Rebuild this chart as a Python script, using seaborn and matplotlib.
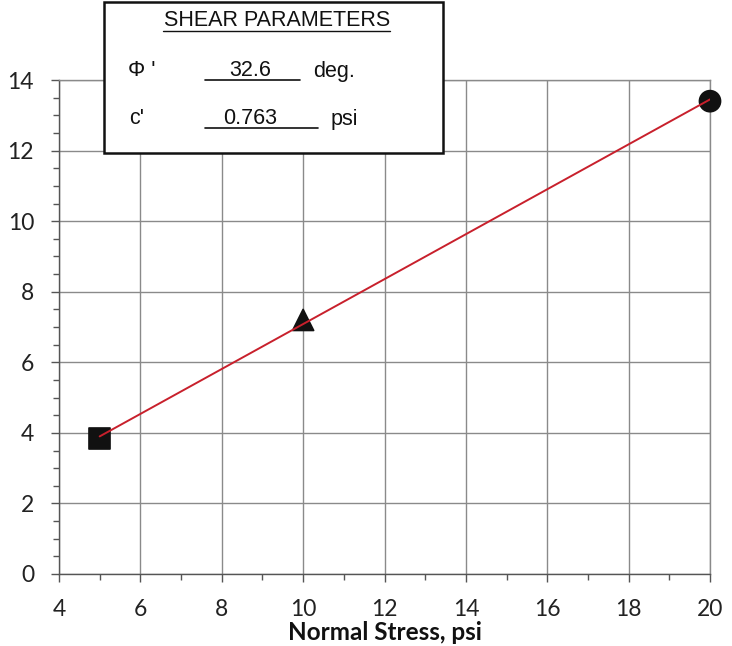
import matplotlib
matplotlib.use("Agg")
import matplotlib.pyplot as plt
import seaborn as sns
import pandas as pd
from matplotlib.ticker import MultipleLocator
from matplotlib.patches import Rectangle
from matplotlib.lines import Line2D

# Data
normal_stress = [5, 10, 20]
shear_stress = [3.85, 7.2, 13.4]
specimen = ["A", "B", "C"]
fit_x = [5, 20]
fit_y = [3.9, 13.45]
x_ticks = [4, 6, 8, 10, 12, 14, 16, 18, 20]
y_ticks = [0, 2, 4, 6, 8, 10, 12, 14]
phi_value = "32.6"
c_value = "0.763"

sns.set_theme(style="white")
plt.rcParams['font.family'] = ['Lato', 'DejaVu Sans']

fig = plt.figure(figsize=(7.32, 6.46), dpi=100)
ax = fig.add_axes([59/732, 1-574/646, (710-59)/732, (574-80)/646])

pts = pd.DataFrame({"x": normal_stress, "y": shear_stress, "s": specimen})
sns.scatterplot(data=pts, x="x", y="y", style="s",
                markers={"A": "s", "B": "^", "C": "o"},
                color="#111111", edgecolor="#111111", s=230, legend=False,
                ax=ax, zorder=3, clip_on=False)
fit = pd.DataFrame({"x": fit_x, "y": fit_y})
sns.lineplot(data=fit, x="x", y="y", color="#c8202c", linewidth=1.4, ax=ax, zorder=4)

ax.set_xlim(4, 20)
ax.set_ylim(0, 14)
ax.set_xticks(x_ticks)
ax.set_yticks(y_ticks)
ax.xaxis.set_minor_locator(MultipleLocator(1))
ax.yaxis.set_minor_locator(MultipleLocator(0.5))
ax.grid(True, which="major", color="#8a8a8a", linewidth=1.0)
ax.tick_params(axis="both", which="major", direction="out", length=6, width=1,
               color="#555555", labelsize=16.5, labelcolor="#222222")
ax.tick_params(axis="x", which="major", pad=12)
ax.tick_params(axis="y", which="major", pad=12)
ax.tick_params(axis="both", which="minor", direction="out", length=4, width=1,
               color="#555555")
ax.tick_params(bottom=True, left=True, which="both")
for side in ["top", "right"]:
    ax.spines[side].set_color("#8a8a8a")
    ax.spines[side].set_linewidth(1.0)
for side in ["left", "bottom"]:
    ax.spines[side].set_color("#555555")
    ax.spines[side].set_linewidth(1.0)
ax.set_xlabel("Normal Stress, psi", fontsize=17.5, fontweight="bold",
              color="#111111", labelpad=1)
ax.set_ylabel("")

# Parameter box
W, H = 732, 646
def fx(px): return px / W
def fy(py): return 1 - py / H

fig.patches.append(Rectangle((fx(104), fy(153)), fx(443) - fx(104), fy(2) - fy(153),
                             transform=fig.transFigure, facecolor="white",
                             edgecolor="#111111", linewidth=1.8, zorder=10))
box_font = ['Liberation Sans', 'DejaVu Sans']
fs = 15.5
fig.text(fx(277), fy(20), "SHEAR PARAMETERS", ha="center", va="center",
         fontsize=fs, family=box_font, color="#111111", zorder=11)
fig.add_artist(Line2D([fx(163), fx(390)], [fy(31), fy(31)], color="#111111",
                      linewidth=1.0, zorder=11))
fig.text(fx(128), fy(71), "Φ '", ha="left", va="center", fontsize=fs,
         family=box_font, color="#111111", zorder=11)
fig.text(fx(250), fy(70), phi_value, ha="center", va="center", fontsize=fs,
         family=box_font, color="#111111", zorder=11)
fig.add_artist(Line2D([fx(205), fx(300)], [fy(80), fy(80)], color="#111111",
                      linewidth=1.2, zorder=11))
fig.text(fx(313), fy(71), "deg.", ha="left", va="center", fontsize=fs,
         family=box_font, color="#111111", zorder=11)
fig.text(fx(129), fy(119), "c'", ha="left", va="center", fontsize=fs,
         family=box_font, color="#111111", zorder=11)
fig.text(fx(250), fy(118), c_value, ha="center", va="center", fontsize=fs,
         family=box_font, color="#111111", zorder=11)
fig.add_artist(Line2D([fx(205), fx(318)], [fy(128), fy(128)], color="#111111",
                      linewidth=1.2, zorder=11))
fig.text(fx(331), fy(119), "psi", ha="left", va="center", fontsize=fs,
         family=box_font, color="#111111", zorder=11)

fig.savefig("out.png", dpi=100)
